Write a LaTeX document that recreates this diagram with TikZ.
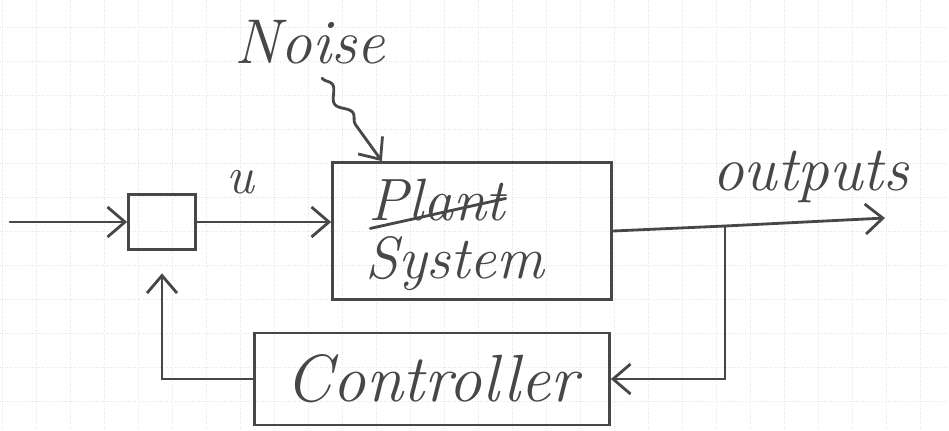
\documentclass[tikz,border=0pt]{standalone}
\usepackage{tikz}
\usetikzlibrary{arrows.meta,calc,decorations.pathmorphing}

\begin{document}
\begin{tikzpicture}[
  x=0.02cm, y=-0.02cm,
  pen/.style={draw=black!72,line width=1.6pt,line cap=round},
  block/.style={rectangle,draw=black!72,line width=1.6pt,inner sep=0pt},
  hand/.style={text=black!72,inner sep=0pt,font=\itshape\fontsize{34}{38}\selectfont},
  gridline/.style={black!10,line width=0.4pt,densely dotted},
  >={Straight Barb[length=3.5mm,width=6mm]}
]
  \useasboundingbox (0,0) rectangle (949,430);
  \fill[white] (0,0) rectangle (949,430);
  % squared paper
  \foreach \gx in {2,36,...,949} \draw[gridline] (\gx,0) -- (\gx,430);
  \foreach \gy in {-7,27,...,430} \draw[gridline] (0,\gy) -- (949,\gy);

  % blocks
  \node[block,minimum width=1.34cm,minimum height=1.1cm] (sum) at (162,222) {};
  \node[block,minimum width=5.58cm,minimum height=2.74cm] (plant) at (472,231) {};
  \node[block,minimum width=7.1cm,minimum height=1.84cm] (ctrl) at (432,379) {};

  % texts
  \node[hand] (plantname) at (437,200) {Plant};
  \node[hand] (sysname) at (455,264) {System};
  \node[hand,font=\itshape\fontsize{38}{42}\selectfont] (ctrlname) at (ctrl) {Controller};
  \node[hand,font=\itshape\fontsize{36}{40}\selectfont] (noise) at (310,42) {Noise};
  \node[hand,font=\itshape\fontsize{30}{34}\selectfont] (ulabel) at (240,182) {u};
  \node[hand,anchor=base west,font=\itshape\fontsize{36}{40}\selectfont] (outlabel) at (712,190) {outputs};
  \draw[pen] ($(plantname.base west)+(2,8)$) -- ($(plantname.base east)+(0,-22)$);

  \coordinate (in) at (10,222);
  \coordinate (tap) at (725,226);
  \coordinate (out) at (885,218);
  \coordinate (noisestart) at ($(noise.south)+(12,14)$);

  % signal flow
  \draw[pen,->] (in) -- (sum.west);
  \draw[pen,->] (sum.east) -- (plant.west |- sum.east);
  \draw[pen,->] (plant.east) -- (tap) -- (out);
  \draw[pen,->] (tap) |- (ctrl.east);
  \draw[pen,->,shorten >=0.45cm] (ctrl.west) -| (sum.south);
  \draw[pen,->,decorate,decoration={snake,amplitude=1mm,segment length=7mm,post length=8mm}]
    (noisestart) -- ($(plant.north west)!0.18!(plant.north east)$);
\end{tikzpicture}
\end{document}
